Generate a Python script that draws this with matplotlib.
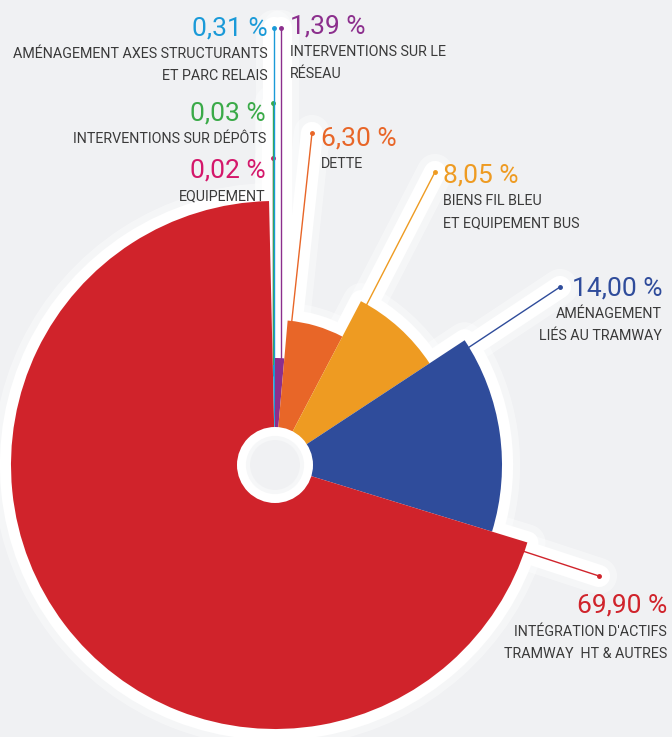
import numpy as np
import matplotlib
matplotlib.use('Agg')
import matplotlib.pyplot as plt
from matplotlib.patches import Wedge, Circle

# slices, clockwise from 12 o'clock
values = [1.39, 6.30, 8.05, 14.00, 69.90, 0.02, 0.03, 0.31]
pct_labels = ['1,39 %', '6,30 %', '8,05 %', '14,00 %', '69,90 %', '0,02 %', '0,03 %', '0,31 %']
names = [['INTERVENTIONS SUR LE', 'RÉSEAU'],
         ['DETTE'],
         ['BIENS FIL BLEU', 'ET EQUIPEMENT BUS'],
         ['AMÉNAGEMENT', 'LIÉS AU TRAMWAY'],
         ["INTÉGRATION D'ACTIFS", 'TRAMWAY  HT & AUTRES'],
         ['EQUIPEMENT'],
         ['INTERVENTIONS SUR DÉPÔTS'],
         ['AMÉNAGEMENT AXES STRUCTURANTS', 'ET PARC RELAIS']]
colors = ['#8c2f8d', '#e86628', '#ee9b22', '#2f4c9b', '#d0232b', '#d4186b', '#3aaa48', '#1a9ad8']

# layout (pixels, y from top)
radii = [107, 145, 185, 227, 264, 100, 100, 100]
cx, cy = 275, 465
lab_x = [290, 321, 443, 662, 667, 266, 266, 268]
lab_y = [33, 145, 182, 295, 613, 177, 120, 35]
lab_ha = ['left', 'left', 'left', 'right', 'right', 'right', 'right', 'right']
# leader lines: start inside slice (angle fraction, radius fraction), end point (None = vertical)
lead_frac = [(0.75, 0.9), (0.1, 0.45), (0.1, 0.75), (0.06, 0.7), (0.01, 0.7),
             (0.5, 0.9), (0.5, 0.9), (0.5, 0.9)]
lead_end = [(None, 28), (312, 133), (435, 172), (560, 287), (599, 576),
            (None, 158), (None, 103), (None, 28)]

bg = '#f0f1f3'
txt = '#3a3a3a'
font = ['Roboto', 'DejaVu Sans']

fig = plt.figure(figsize=(6.72, 7.37), dpi=100, facecolor=bg)
ax = fig.add_axes([0, 0, 1, 1])
ax.set_facecolor(bg)
ax.set_xlim(0, 672)
ax.set_ylim(737, 0)
ax.set_aspect('equal')
ax.axis('off')

# angles clockwise from north -> data angles on an inverted y axis
bounds = np.concatenate([[0], np.cumsum(values)]) / sum(values) * 360

starts, ends = [], []
for i, v in enumerate(values):
    a1, a2 = bounds[i], bounds[i + 1]
    fa, fr = lead_frac[i]
    ang = np.radians(a1 + fa * (a2 - a1))
    r = fr * radii[i]
    sx, sy = cx + r * np.sin(ang), cy - r * np.cos(ang)
    ex, ey = lead_end[i]
    if ex is None:
        ex = sx
    starts.append((sx, sy))
    ends.append((ex, ey))

# white halos
for i in range(len(values)):
    a1, a2 = bounds[i] - 90, bounds[i + 1] - 90
    for lw, al in [(26, 0.4), (16, 1)]:
        ax.add_patch(Wedge((cx, cy), radii[i], a1, a2, fc='white', ec='white',
                           lw=lw, alpha=al, zorder=1, joinstyle='round'))
        ax.plot([starts[i][0], ends[i][0]], [starts[i][1], ends[i][1]], color='white',
                lw=lw, alpha=al, solid_capstyle='round', zorder=1)

# leader lines
for i in range(len(values)):
    ax.plot([starts[i][0], ends[i][0]], [starts[i][1], ends[i][1]], color=colors[i],
            lw=1, zorder=2)
    ax.plot(ends[i][0], ends[i][1], 'o', color=colors[i], ms=2.5, zorder=2)

# slices
for i in range(len(values)):
    a1, a2 = bounds[i] - 90, bounds[i + 1] - 90
    ax.add_patch(Wedge((cx, cy), radii[i], a1, a2, fc=colors[i], ec='none', zorder=3))

# centre hole
ax.add_patch(Circle((cx, cy), 38, fc='white', ec='none', zorder=4))
ax.add_patch(Circle((cx, cy), 27, fc=bg, ec='#f6f7f8', lw=3, zorder=5))

# labels
for i in range(len(values)):
    ax.text(lab_x[i], lab_y[i], pct_labels[i], color=colors[i], fontsize=19,
            family=font, ha=lab_ha[i], va='baseline', zorder=6)
    for j, line in enumerate(names[i]):
        ax.text(lab_x[i], lab_y[i] + 23 + 22 * j, line, color=txt, fontsize=10.3,
                family=font, ha=lab_ha[i], va='baseline', zorder=6)

fig.savefig('out.png', dpi=100, facecolor=bg)
